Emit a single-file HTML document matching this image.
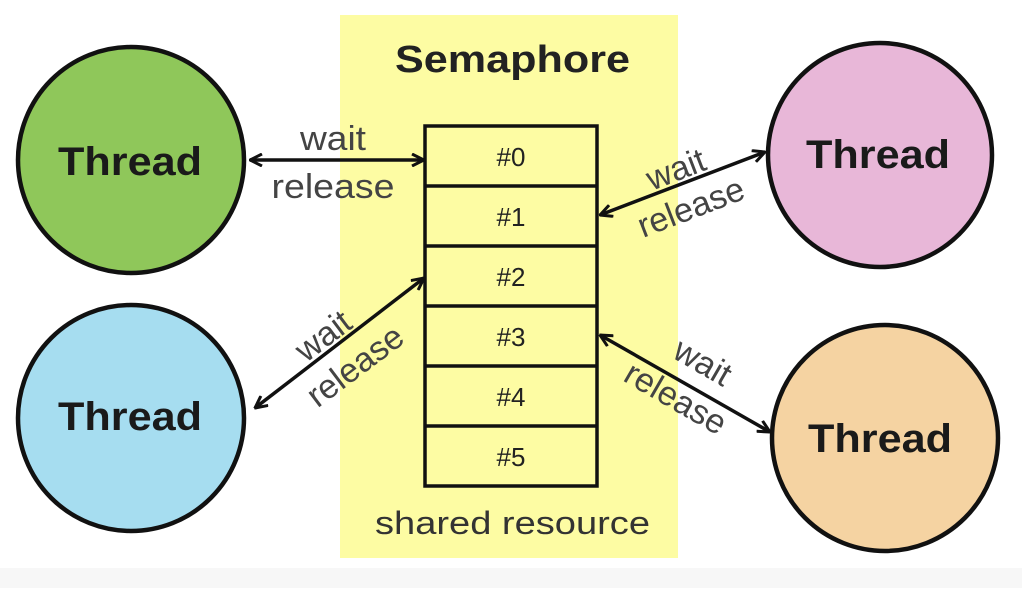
<!DOCTYPE html>
<html><head><style>body{margin:0;background:#fff}</style></head><body>
<svg width="1022" height="588" xmlns="http://www.w3.org/2000/svg" font-family="Liberation Sans, sans-serif">
<defs><marker id="a" viewBox="0 0 14 14" refX="13" refY="7" markerWidth="14" markerHeight="14" markerUnits="userSpaceOnUse" orient="auto-start-reverse"><path d="M1 1 L13 7 L1 13" fill="none" stroke="#111" stroke-width="3"/></marker></defs>
<rect x="0" y="0" width="1022" height="588" fill="#fff"/>
<rect x="0" y="568" width="1022" height="20" fill="#f7f7f7"/>
<rect x="340" y="15" width="338" height="543" fill="#fdfca3"/>
<text x="395" y="72" font-size="38" font-weight="bold" fill="#222" textLength="235" lengthAdjust="spacingAndGlyphs">Semaphore</text>
<g fill="none" stroke="#111" stroke-width="3.5">
<rect x="425" y="126" width="172" height="360"/>
<line x1="425" y1="186" x2="597" y2="186"/><line x1="425" y1="246" x2="597" y2="246"/><line x1="425" y1="306" x2="597" y2="306"/><line x1="425" y1="366" x2="597" y2="366"/><line x1="425" y1="426" x2="597" y2="426"/>
</g>
<g font-size="26" text-anchor="middle" fill="#222">
<text x="511" y="166">#0</text><text x="511" y="226">#1</text><text x="511" y="286">#2</text><text x="511" y="346">#3</text><text x="511" y="406">#4</text><text x="511" y="466">#5</text>
</g>
<text x="375" y="534" font-size="32" fill="#333" textLength="275" lengthAdjust="spacingAndGlyphs">shared resource</text>
<g stroke="#111" stroke-width="4.5">
<circle cx="131" cy="160" r="113" fill="#8fc75a"/>
<circle cx="131" cy="418" r="113" fill="#a6ddf0"/>
<circle cx="880" cy="155" r="112" fill="#e8b7d8"/>
<circle cx="885" cy="438" r="113" fill="#f5d3a2"/>
</g>
<g font-size="40" font-weight="bold" fill="#1a1a1a">
<text x="58" y="175" textLength="144" lengthAdjust="spacingAndGlyphs">Thread</text>
<text x="58" y="430" textLength="144" lengthAdjust="spacingAndGlyphs">Thread</text>
<text x="806" y="168" textLength="144" lengthAdjust="spacingAndGlyphs">Thread</text>
<text x="808" y="452" textLength="144" lengthAdjust="spacingAndGlyphs">Thread</text>
</g>
<g stroke="#111" stroke-width="3.5" marker-start="url(#a)" marker-end="url(#a)">
<line x1="250" y1="160" x2="424" y2="160"/>
<line x1="255" y1="408" x2="424" y2="278"/>
<line x1="600" y1="215" x2="765" y2="152"/>
<line x1="600" y1="335" x2="770" y2="432"/>
</g>
<g font-size="34" fill="#444" text-anchor="middle">
<text x="333" y="150" textLength="66" lengthAdjust="spacingAndGlyphs">wait</text>
<text x="333" y="198" textLength="123" lengthAdjust="spacingAndGlyphs">release</text>
<text transform="translate(330,345) rotate(-37)">wait</text>
<text transform="translate(362,375) rotate(-37)">release</text>
<text transform="translate(680,180) rotate(-21)">wait</text>
<text transform="translate(695,218) rotate(-21)">release</text>
<text transform="translate(697,372) rotate(30)">wait</text>
<text transform="translate(670,408) rotate(30)">release</text>
</g>
</svg>
</body></html>
